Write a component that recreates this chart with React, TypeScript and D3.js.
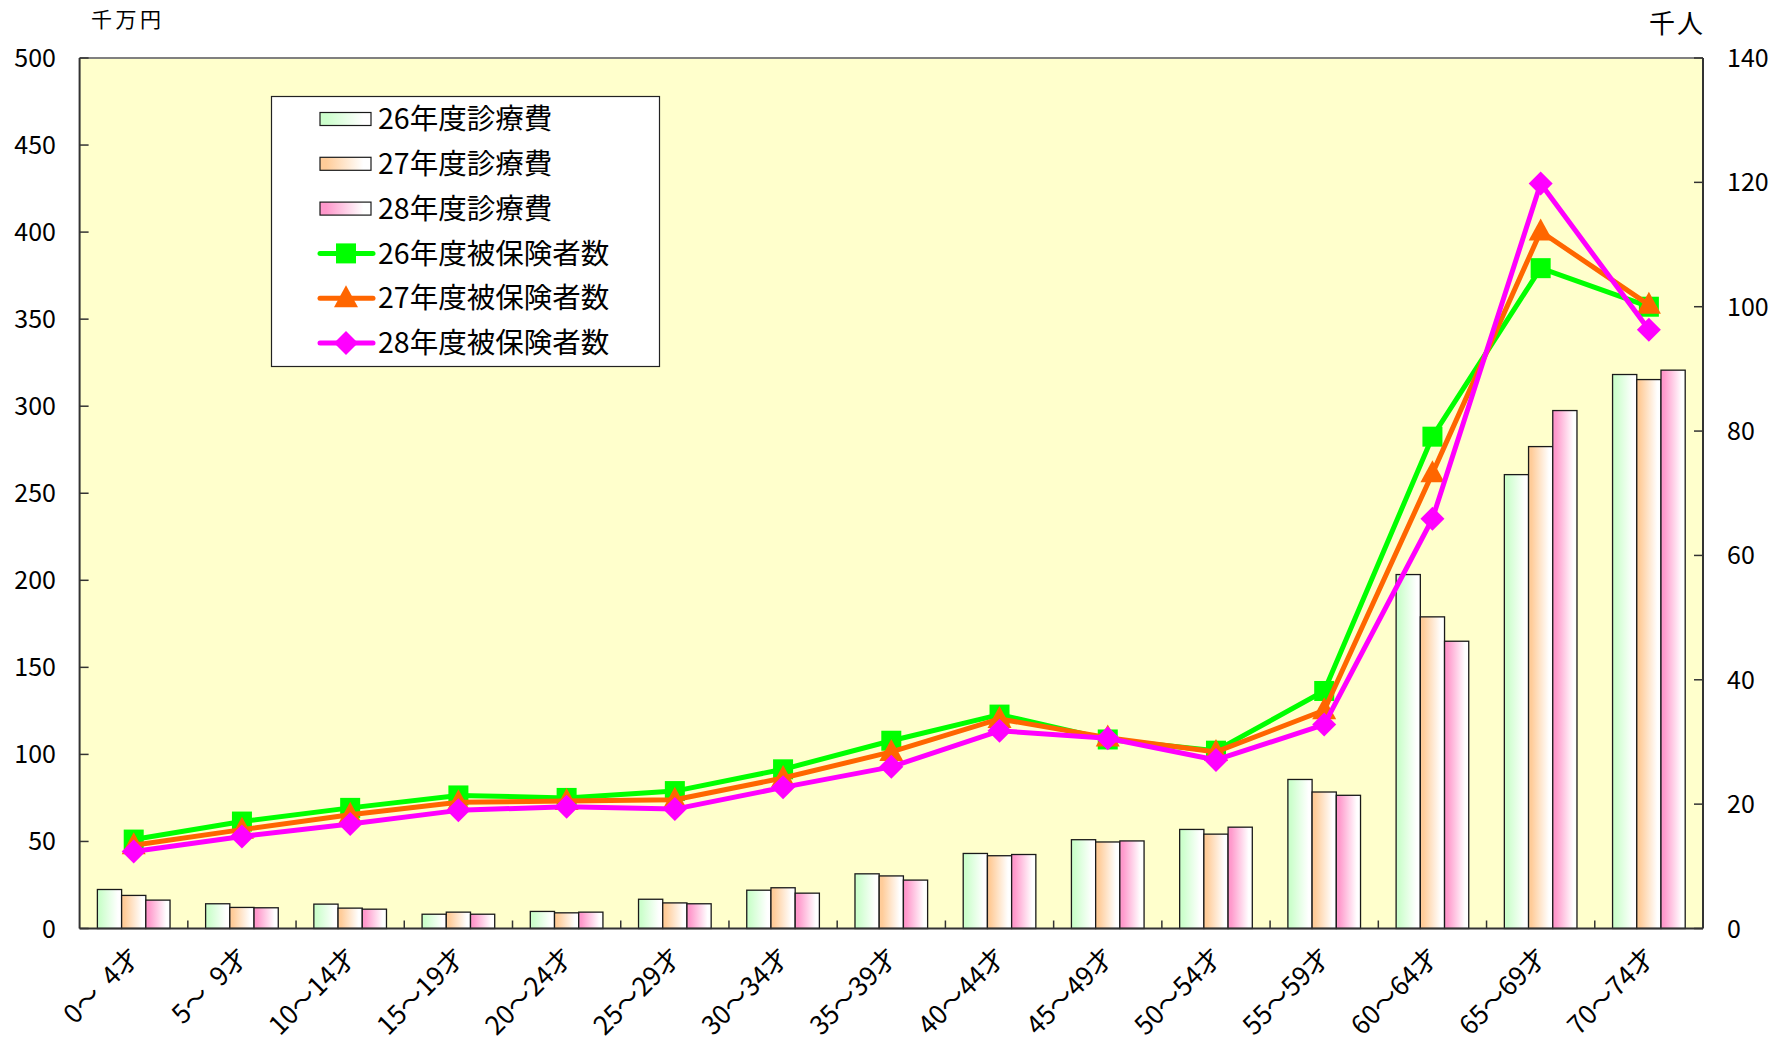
import React from "react";
import * as d3 from "d3";

const categories = ["0～\u20024才", "5～\u20029才", "10～14才", "15～19才", "20～24才", "25～29才", "30～34才", "35～39才", "40～44才", "45～49才", "50～54才", "55～59才", "60～64才", "65～69才", "70～74才"];

const cost26 = [22.4, 14.2, 14.0, 8.2, 9.8, 16.8, 22.0, 31.4, 43.1, 51.0, 56.9, 85.6, 203.3, 260.7, 318.2];
const cost27 = [19.0, 12.1, 11.7, 9.4, 9.0, 14.7, 23.4, 30.2, 41.8, 49.7, 54.2, 78.4, 179.0, 276.8, 315.3];
const cost28 = [16.3, 11.9, 11.1, 8.2, 9.4, 14.2, 20.3, 27.8, 42.5, 50.3, 58.2, 76.5, 165.0, 297.5, 320.7];

const insured26 = [14.3, 17.2, 19.4, 21.4, 21.0, 22.1, 25.6, 30.2, 34.4, 30.4, 28.6, 38.2, 79.1, 106.2, 100.0];
const insured27 = [13.4, 15.9, 18.3, 20.3, 20.5, 20.7, 24.2, 28.4, 33.7, 30.7, 28.4, 35.1, 73.2, 112.1, 100.3];
const insured28 = [12.4, 14.8, 16.8, 19.0, 19.6, 19.2, 22.7, 26.0, 31.8, 30.6, 27.1, 32.8, 65.9, 119.8, 96.3];

const leftTicks = [0, 50, 100, 150, 200, 250, 300, 350, 400, 450, 500];
const rightTicks = [0, 20, 40, 60, 80, 100, 120, 140];

const barSeries = [
  { name: "26年度診療費", values: cost26, color: "#CCFFCC", id: "g26" },
  { name: "27年度診療費", values: cost27, color: "#FFCC99", id: "g27" },
  { name: "28年度診療費", values: cost28, color: "#FF99CC", id: "g28" },
];
const lineSeries = [
  { name: "26年度被保険者数", values: insured26, color: "#00FF00", marker: "square" },
  { name: "27年度被保険者数", values: insured27, color: "#FF6600", marker: "triangle" },
  { name: "28年度被保険者数", values: insured28, color: "#FF00FF", marker: "diamond" },
];

const FONT = "'Noto Sans CJK JP', 'Noto Sans', sans-serif";

function Marker({ type, x, y, color }: { type: string; x: number; y: number; color: string }) {
  if (type === "square") return <rect x={x - 10} y={y - 10} width={20} height={20} fill={color} />;
  if (type === "triangle")
    return <path d={`M${x},${y - 13} L${x + 12},${y + 9} L${x - 12},${y + 9} Z`} fill={color} />;
  return <path d={`M${x},${y - 12} L${x + 12},${y} L${x},${y + 12} L${x - 12},${y} Z`} fill={color} />;
}

export default function App() {
  const L = 79.6, R = 1703, T = 58, B = 928.5;
  const x = d3.scaleBand<string>().domain(categories).range([L, R]).paddingInner(0).paddingOuter(0);
  const xi = d3.scaleBand<string>().domain(barSeries.map((s) => s.id)).range([0, x.bandwidth()]).paddingInner(0).paddingOuter(0.735);
  const yL = d3.scaleLinear().domain([0, 500]).range([B, T]);
  const yR = d3.scaleLinear().domain([0, 140]).range([B, T]);
  const line = d3.line<number>().x((_, i) => (x(categories[i]) as number) + x.bandwidth() / 2).y((d) => yR(d));

  return (
    <svg width={1784} height={1043} style={{ position: "absolute", left: 0, top: 0, background: "#fff" }} fontFamily={FONT}>
      <defs>
        {barSeries.map((s) => (
          <linearGradient key={s.id} id={s.id} x1="0" x2="1" y1="0" y2="0">
            <stop offset="0%" stopColor={s.color} />
            <stop offset="12%" stopColor={s.color} />
            <stop offset="85%" stopColor="#ffffff" />
            <stop offset="100%" stopColor="#ffffff" />
          </linearGradient>
        ))}
      </defs>
      <rect x={0} y={0} width={1784} height={1043} fill="#fff" />
      <rect x={L} y={T} width={R - L} height={B - T} fill="#FFFFCC" />
      <line x1={L} x2={R} y1={T} y2={T} stroke="#808080" strokeWidth={2} />

      {/* bars */}
      {barSeries.map((s) =>
        s.values.map((v, i) => (
          <rect
            key={s.id + i}
            x={(x(categories[i]) as number) + (xi(s.id) as number)}
            y={yL(v)}
            width={xi.bandwidth()}
            height={B - yL(v)}
            fill={`url(#${s.id})`}
            stroke="#1a1a1a"
            strokeWidth={1.3}
          />
        ))
      )}

      {/* axes */}
      <line x1={L} x2={L} y1={T} y2={B} stroke="#333" strokeWidth={2} />
      <line x1={R} x2={R} y1={T} y2={B} stroke="#333" strokeWidth={2} />
      <line x1={L} x2={R} y1={B} y2={B} stroke="#333" strokeWidth={2} />
      {leftTicks.map((t) => (
        <g key={"l" + t}>
          <line x1={L} x2={L + 9} y1={yL(t)} y2={yL(t)} stroke="#333" strokeWidth={1.5} />
          <text x={56} y={yL(t)} dy="0.36em" textAnchor="end" fontSize={25} fill="#000">{t}</text>
        </g>
      ))}
      {rightTicks.map((t) => (
        <g key={"r" + t}>
          <line x1={R - 9} x2={R} y1={yR(t)} y2={yR(t)} stroke="#333" strokeWidth={1.5} />
          <text x={1727} y={yR(t)} dy="0.36em" textAnchor="start" fontSize={25} fill="#000">{t}</text>
        </g>
      ))}
      {categories.slice(1).map((c) => (
        <line key={"ct" + c} x1={x(c) as number} x2={x(c) as number} y1={B} y2={B - 8} stroke="#333" strokeWidth={1.5} />
      ))}
      {categories.map((c) => {
        const cx = (x(c) as number) + x.bandwidth() / 2 + 1;
        const cy = B + 24;
        return (
          <text key={"xl" + c} transform={`translate(${cx},${cy}) rotate(-45)`} textAnchor="end" dy="0.35em" fontSize={26} fill="#000">
            {c}
          </text>
        );
      })}

      <text x={91} y={27} fontSize={21} letterSpacing={3.5} fill="#000">千万円</text>
      <text x={1649} y={33} fontSize={26} letterSpacing={2} fill="#000">千人</text>

      {/* lines */}
      {lineSeries.map((s) => (
        <g key={s.name}>
          <path d={line(s.values) as string} fill="none" stroke={s.color} strokeWidth={5} strokeLinejoin="round" />
          {s.values.map((v, i) => (
            <Marker key={i} type={s.marker} x={(x(categories[i]) as number) + x.bandwidth() / 2} y={yR(v)} color={s.color} />
          ))}
        </g>
      ))}

      {/* legend */}
      <rect x={271.5} y={96.5} width={388} height={270} fill="#fff" stroke="#222" strokeWidth={1.2} />
      {barSeries.map((s, i) => {
        const cy = 119 + i * 44.8;
        return (
          <g key={"lg" + s.id}>
            <rect x={320} y={cy - 6.5} width={51} height={13} fill={`url(#${s.id})`} stroke="#1a1a1a" strokeWidth={1.2} />
            <text x={378} y={cy} dy="0.36em" fontSize={28.5} fill="#000">{s.name}</text>
          </g>
        );
      })}
      {lineSeries.map((s, i) => {
        const cy = 119 + (i + 3) * 44.8;
        return (
          <g key={"ll" + s.name}>
            <line x1={320} x2={373} y1={cy} y2={cy} stroke={s.color} strokeWidth={5} strokeLinecap="round" />
            <Marker type={s.marker} x={346} y={cy} color={s.color} />
            <text x={378} y={cy} dy="0.36em" fontSize={28.5} fill="#000">{s.name}</text>
          </g>
        );
      })}
    </svg>
  );
}
